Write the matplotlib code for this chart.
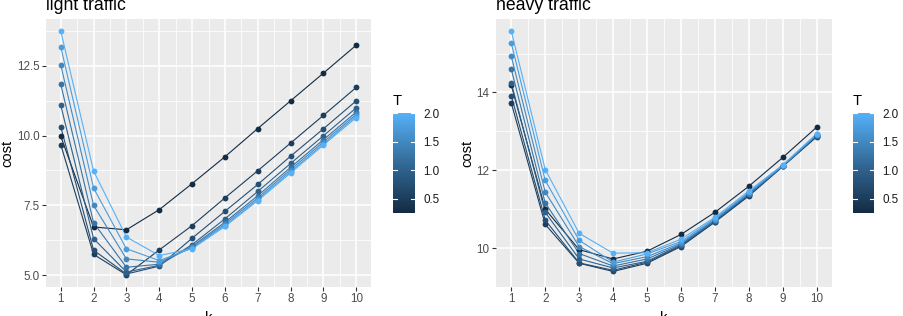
import matplotlib
matplotlib.use("Agg")
import matplotlib.pyplot as plt
import numpy as np
from matplotlib.colors import LinearSegmentedColormap, Normalize
from matplotlib.cm import ScalarMappable

plt.rcParams['font.family'] = ['Liberation Sans', 'DejaVu Sans']

k = [1, 2, 3, 4, 5, 6, 7, 8, 9, 10]
T_values = [0.25, 0.5, 0.75, 1.0, 1.25, 1.5, 1.75, 2.0]

# light traffic, one list per T
light_025 = [9.97, 6.73, 6.63, 7.35, 8.28, 9.24, 10.25, 11.24, 12.23, 13.23]
light_050 = [9.67, 5.75, 5.02, 5.91, 6.78, 7.77, 8.74, 9.73, 10.72, 11.72]
light_075 = [10.31, 5.90, 5.05, 5.33, 6.33, 7.29, 8.25, 9.26, 10.24, 11.24]
light_100 = [11.08, 6.31, 5.12, 5.36, 6.10, 7.02, 8.00, 9.00, 9.99, 10.99]
light_125 = [11.83, 6.88, 5.29, 5.40, 6.04, 6.90, 7.85, 8.86, 9.85, 10.84]
light_150 = [12.52, 7.50, 5.59, 5.47, 6.00, 6.84, 7.77, 8.78, 9.77, 10.76]
light_175 = [13.17, 8.12, 5.95, 5.53, 5.97, 6.78, 7.71, 8.71, 9.70, 10.70]
light_200 = [13.73, 8.73, 6.37, 5.71, 5.95, 6.75, 7.67, 8.66, 9.66, 10.64]

# heavy traffic
heavy_025 = [14.19, 11.00, 9.96, 9.72, 9.92, 10.35, 10.92, 11.59, 12.33, 13.11]
heavy_050 = [13.73, 10.61, 9.61, 9.40, 9.61, 10.04, 10.67, 11.34, 12.10, 12.86]
heavy_075 = [13.92, 10.72, 9.62, 9.43, 9.64, 10.06, 10.68, 11.36, 12.10, 12.88]
heavy_100 = [14.25, 10.92, 9.72, 9.49, 9.66, 10.08, 10.70, 11.38, 12.11, 12.89]
heavy_125 = [14.60, 11.16, 9.86, 9.54, 9.72, 10.10, 10.72, 11.39, 12.11, 12.90]
heavy_150 = [14.93, 11.44, 10.04, 9.60, 9.78, 10.13, 10.73, 11.41, 12.12, 12.91]
heavy_175 = [15.27, 11.74, 10.20, 9.64, 9.85, 10.17, 10.76, 11.43, 12.13, 12.93]
heavy_200 = [15.58, 12.02, 10.38, 9.87, 9.88, 10.23, 10.79, 11.47, 12.14, 12.94]

light_series = [light_025, light_050, light_075, light_100,
                light_125, light_150, light_175, light_200]
heavy_series = [heavy_025, heavy_050, heavy_075, heavy_100,
                heavy_125, heavy_150, heavy_175, heavy_200]

W, H = 904, 316
cmap = LinearSegmentedColormap.from_list("gg", ["#132B43", "#336A98", "#56B1F7"])
norm = Normalize(vmin=min(T_values), vmax=max(T_values))

fig = plt.figure(figsize=(W / 100, H / 100), dpi=100)


def px(x0, y0, x1, y1):
    # pixel box (top-left origin) -> figure fraction rect
    return [x0 / W, (H - y1) / H, (x1 - x0) / W, (y1 - y0) / H]


def panel(rect, series, title, yticks, yminor, ylabel_x, cbar_rect, legend_x):
    ax = fig.add_axes(px(*rect))
    ax.set_facecolor("#EBEBEB")
    for s in ax.spines.values():
        s.set_visible(False)
    for T, vals in zip(T_values, series):
        c = cmap(norm(T))
        ax.plot(k, vals, color=c, lw=0.8, zorder=3)
    for T, vals in zip(T_values, series):
        c = cmap(norm(T))
        ax.plot(k, vals, 'o', color=c, ms=4.2, mew=0, zorder=4)

    allv = np.concatenate([np.array(v) for v in series])
    lo, hi = allv.min(), allv.max()
    pad = (hi - lo) * 0.05
    ax.set_ylim(lo - pad, hi + pad)
    ax.set_xlim(0.55, 10.45)

    ax.set_xticks(k)
    ax.set_xticklabels([str(v) for v in k])
    ax.set_xticks([v + 0.5 for v in k[:-1]], minor=True)
    ax.set_yticks(yticks)
    ax.set_yticklabels([("%.1f" % v) if isinstance(v, float) else str(v) for v in yticks])
    ax.set_yticks(yminor, minor=True)
    ax.grid(which="major", color="white", lw=1.1, zorder=1)
    ax.grid(which="minor", color="white", lw=0.55, zorder=1)
    ax.set_axisbelow(True)
    ax.tick_params(which="major", length=2.6, width=0.8, color="#333333",
                   labelsize=8.4, labelcolor="#4D4D4D", pad=2)
    ax.tick_params(which="minor", length=0)

    x0, y0, x1, y1 = rect
    fig.text(x0 / W, 1 - 9.5 / H, title, fontsize=12.7, ha="left", va="baseline")
    fig.text(ylabel_x / W, 1 - ((y0 + y1) / 2) / H, "cost", fontsize=10.6,
             rotation=90, ha="center", va="center")
    fig.text(((x0 + x1) / 2) / W, -5.5 / H, "k", fontsize=10.6, ha="center", va="baseline")

    # colourbar legend
    cax = fig.add_axes(px(*cbar_rect))
    cb = fig.colorbar(ScalarMappable(norm=norm, cmap=cmap), cax=cax)
    cb.outline.set_visible(False)
    cb.set_ticks([0.5, 1.0, 1.5, 2.0])
    cax.tick_params(length=0, labelsize=8.4, labelcolor="#1A1A1A", pad=6)
    for t in [0.5, 1.0, 1.5, 2.0]:
        cax.plot([0, 0.2], [t, t], color="white", lw=0.8, clip_on=False)
        cax.plot([0.8, 1.0], [t, t], color="white", lw=0.8, clip_on=False)
    cax.set_xlim(0, 1)
    fig.text(cbar_rect[0] / W, 1 - 105 / H, "T", fontsize=10.6, ha="left", va="baseline")
    return ax


panel((46, 19, 371, 287), light_series, "light traffic",
      [5.0, 7.5, 10.0, 12.5], [6.25, 8.75, 11.25, 13.75], 7.5,
      (393, 113, 415, 213), 421)
panel((496, 19, 832, 287), heavy_series, "heavy traffic",
      [10, 12, 14], [9, 11, 13, 15], 467.5,
      (853, 113, 874, 213), 881)

fig.savefig("out.png", dpi=100)
